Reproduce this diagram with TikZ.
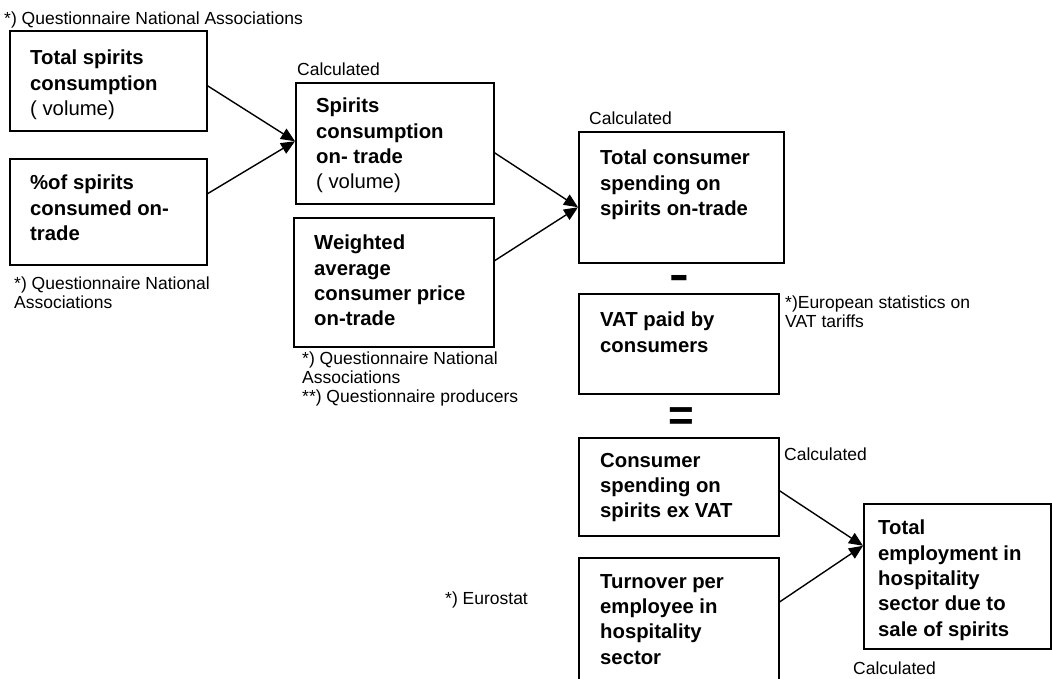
\documentclass[tikz,border=0pt]{standalone}
\usepackage{fontspec}
\setmainfont{Liberation Sans}
\usetikzlibrary{arrows.meta,calc}
\tikzset{
 boxst/.style={draw, line width=1.5pt, inner sep=0, anchor=north west},
 boxtxt/.style={anchor=north west, inner sep=0, align=left, font=\fontsize{20.3}{25.3}\selectfont\bfseries},
 note/.style={anchor=north west, inner sep=0, align=left, font=\fontsize{17.5}{19}\selectfont},
 conn/.style={line width=1.4pt, -{Triangle[length=14pt,width=12pt]}},
 sign/.style={inner sep=0, font=\fontsize{44}{44}\selectfont\bfseries},
}
\begin{document}
\begin{tikzpicture}[x=1pt,y=-1pt]
\useasboundingbox (0,0) rectangle (1052,678);
\clip (0,0) rectangle (1052,678);
% boxes
\node[boxst, minimum width=197pt, minimum height=100pt] (A) at (9,30) {};
\node[boxst, minimum width=197pt, minimum height=106pt] (B) at (9,158) {};
\node[boxst, minimum width=198pt, minimum height=121pt] (C) at (295,82) {};
\node[boxst, minimum width=200pt, minimum height=129pt] (D) at (293,217) {};
\node[boxst, minimum width=205pt, minimum height=131pt] (E) at (578,131) {};
\node[boxst, minimum width=200pt, minimum height=100pt] (F) at (578,293) {};
\node[boxst, minimum width=200pt, minimum height=98pt] (G) at (578,437) {};
\node[boxst, minimum width=200pt, minimum height=143pt] (H) at (578,557) {};
\node[boxst, minimum width=187pt, minimum height=145pt] (I) at (863,503) {};
% box texts
\node[boxtxt] (At) at (30,50) {Total spirits\\consumption\\{\mdseries ( volume)}};
\node[boxtxt] (Bt) at (30,175) {\%of spirits\\consumed on-\\trade};
\node[boxtxt] (Ct) at (316,98) {Spirits\\consumption\\on- trade\\{\mdseries ( volume)}};
\node[boxtxt] (Dt) at (314,235) {Weighted\\average\\consumer price\\on-trade};
\node[boxtxt] (Et) at (600,150) {Total consumer\\spending on\\spirits on-trade};
\node[boxtxt] (Ft) at (600,312) {VAT paid by\\consumers};
\node[boxtxt] (Gt) at (600,453) {Consumer\\spending on\\spirits ex VAT};
\node[boxtxt] (Ht) at (600,574) {Turnover per\\employee in\\hospitality\\sector};
\node[boxtxt] (It) at (878,520) {Total\\employment in\\hospitality\\sector due to\\sale of spirits};
% notes
\node[note] (n1) at (4,12) {*) Questionnaire National Associations};
\node[note] (n2) at (14,277) {*) Questionnaire National\\Associations};
\node[note] (n3) at (302,352) {*) Questionnaire National\\Associations\\**) Questionnaire producers};
\node[note] (n4) at (785,296) {*)European statistics on\\VAT tariffs};
\node[note] (n5) at (445,592) {*) Eurostat};
\node[note] (c1) at (297,63) {Calculated};
\node[note] (c2) at (589,112) {Calculated};
\node[note] (c3) at (784,448) {Calculated};
\node[note] (c4) at (853,662) {Calculated};
% signs
\node[sign] (minus) at (679,282) {\scalebox{1.35}[1]{-}};
\node[sign] (equal) at (681,419) {=};
% connectors
\draw[conn] ([yshift=-5pt]A.east) -- ([yshift=2pt]C.west);
\draw[conn] ([yshift=18pt]B.east) -- ([yshift=2pt]C.west);
\draw[conn] ([yshift=-9.5pt]C.east) -- ([yshift=-10pt]E.west);
\draw[conn] ([yshift=21.5pt]D.east) -- ([yshift=-10pt]E.west);
\draw[conn] ([yshift=-4pt]G.east) -- ([yshift=30.5pt]I.west);
\draw[conn] ([yshift=-45pt]H.north east) -- ([yshift=30.5pt]I.west);
\end{tikzpicture}
\end{document}
